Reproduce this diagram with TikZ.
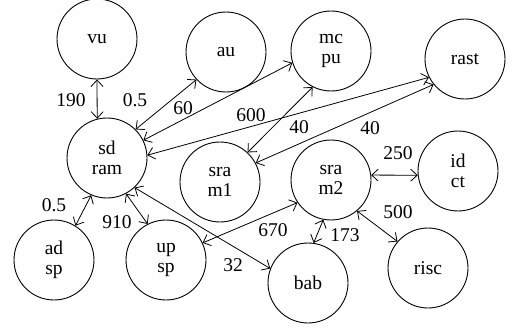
\documentclass[tikz,border=0pt]{standalone}
\usepackage{fontspec}
\setmainfont{Liberation Serif}
\usetikzlibrary{arrows.meta}
\begin{document}
\begin{tikzpicture}[x=1pt,y=-1pt,
  blk/.style={circle,draw,line width=0.9pt,minimum size=80pt,inner sep=0pt,align=center,
    font=\fontsize{19.5}{19.5}\selectfont},
  lbl/.style={font=\fontsize{19.5}{19.5}\selectfont,inner sep=0pt},
  link/.style={line width=0.8pt,{Straight Barb[length=6.5pt,width=12pt]}-{Straight Barb[length=6.5pt,width=12pt]}}]
\useasboundingbox (0,0) rectangle (512,329);
\node[blk] (vu) at (97,39) {vu};
\node[blk] (au) at (226,52) {au};
\node[blk] (mcpu) at (331,51) {mc\\pu};
\node[blk] (rast) at (465,59) {rast};
\node[blk] (sdram) at (107,158) {sd\\ram};
\node[blk] (sram1) at (220,182) {sra\\m1};
\node[blk] (sram2) at (331,180) {sra\\m2};
\node[blk] (idct) at (458,171) {id\\ct};
\node[blk] (adsp) at (54,260) {ad\\sp};
\node[blk] (upsp) at (166,260) {up\\sp};
\node[blk] (bab) at (308,283) {bab};
\node[blk] (risc) at (428,268) {risc};
\draw[link] (vu.270) -- (sdram.104);
\draw[link] (au.223) -- (sdram.45);
\draw[link] (mcpu.197) -- (sdram.26);
\draw[link] (rast.207) -- (sdram.4);
\draw[link] (rast.219) -- (sram1.28);
\draw[link] (mcpu.243) -- (sram1.47);
\draw[link] (sram2.7) -- (idct.186);
\draw[link] (sram2.310) -- (risc.139);
\draw[link] (sram2.259) -- (bab.82);
\draw[link] (upsp.25) -- (sram2.214);
\draw[link] (sdram.313) -- (bab.159);
\draw[link] (sdram.298) -- (upsp.117);
\draw[link] (sdram.247) -- (adsp.58);
\node[lbl] (l1) at (71,100) {190};
\node[lbl] (l2) at (135,100) {0.5};
\node[lbl] (l3) at (183,108) {60};
\node[lbl] (l4) at (251,115) {600};
\node[lbl] (l5) at (299,127) {40};
\node[lbl] (l6) at (370,128) {40};
\node[lbl] (l7) at (398,153) {250};
\node[lbl] (l8) at (398,212) {500};
\node[lbl] (l9) at (345,235) {173};
\node[lbl] (l10) at (273,230) {670};
\node[lbl] (l11) at (233,265) {32};
\node[lbl] (l12) at (117,222) {910};
\node[lbl] (l13) at (54,205) {0.5};
\end{tikzpicture}
\end{document}
